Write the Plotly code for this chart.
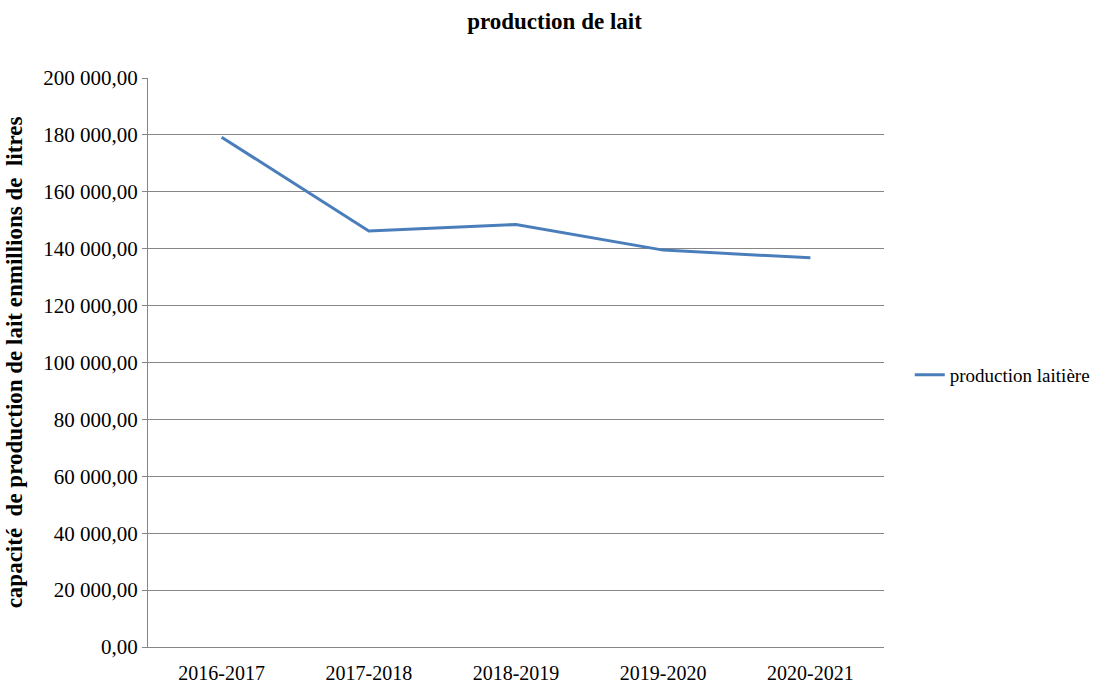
import plotly.graph_objects as go

categories = ["2016-2017", "2017-2018", "2018-2019", "2019-2020", "2020-2021"]
production = [179200, 146200, 148500, 139500, 136800]
y_ticks = [0, 20000, 40000, 60000, 80000, 100000, 120000, 140000, 160000, 180000, 200000]

FONT = "Liberation Serif, Times New Roman, serif"

fig = go.Figure()
fig.add_trace(go.Scatter(
    x=categories, y=production, mode="lines", name="production laitière",
    line=dict(color="#4A7EBB", width=3),
))

fig.update_layout(
    width=1109, height=689,
    paper_bgcolor="white", plot_bgcolor="white",
    margin=dict(l=148, r=225, t=78, b=42),
    separators=", ",
    font=dict(family=FONT, size=20, color="black"),
    title=dict(text="<b>production de lait</b>", x=0.5, xanchor="center",
               y=0.97, yanchor="middle", font=dict(family=FONT, size=23)),
    showlegend=True,
    legend=dict(x=1.035, xanchor="left", y=0.478, yanchor="middle",
                font=dict(family=FONT, size=19), itemwidth=30,
                borderwidth=0, bgcolor="rgba(0,0,0,0)"),
)

fig.update_xaxes(
    type="category", range=[-0.5, 4.5], showgrid=False, showline=True,
    linecolor="#868686", linewidth=1, automargin=False,
    ticks="", tickfont=dict(family=FONT, size=20), ticklabelstandoff=8,
)
fig.update_yaxes(
    range=[0, 200000], tickvals=y_ticks, tickformat=",.2f", automargin=False,
    showgrid=True, gridcolor="#868686", gridwidth=1,
    showline=True, linecolor="#868686", linewidth=1,
    ticks="outside", ticklen=5, tickcolor="#868686",
    tickfont=dict(family=FONT, size=21), zeroline=False,
    title=dict(text="<b>capacité\u00a0 de production de lait enmillions de\u00a0 litres</b>",
               font=dict(family=FONT, size=23), standoff=14),
)

fig.write_html("out.html")
